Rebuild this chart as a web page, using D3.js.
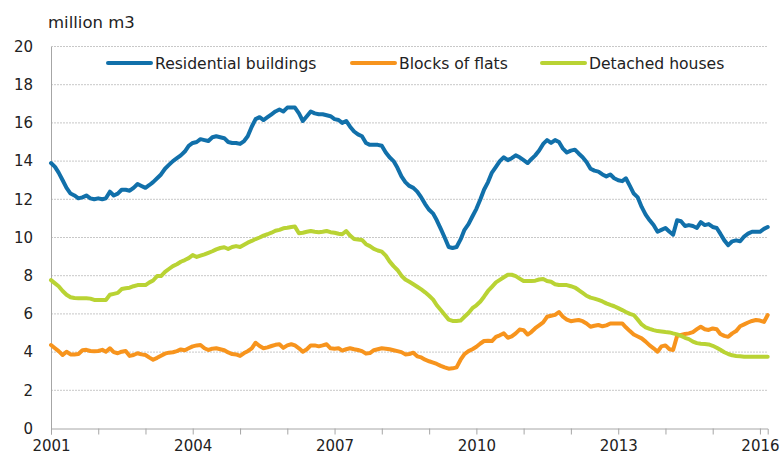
<!DOCTYPE html>
<html><head><meta charset="utf-8">
<script src="https://cdn.jsdelivr.net/npm/d3@7"></script>
<style>
html,body{margin:0;padding:0;background:#fff;}
svg{display:block;font-family:"DejaVu Sans",Verdana,sans-serif;}
</style></head>
<body><svg id="c" width="782" height="459"></svg>
<script>
// Monthly data, Jan 2001 .. Mar 2016 (million m3, moving annual sums)
const months = d3.timeMonth.range(new Date(2001,0,1), new Date(2016,3,1));
const residential = [
13.9,13.7,13.4,13.0,12.6,12.3,12.2,12.05,12.1,12.2,12.05,12.0,
12.05,12.0,12.05,12.4,12.2,12.3,12.5,12.5,12.45,12.6,12.8,12.7,
12.6,12.75,12.9,13.1,13.3,13.6,13.8,14.0,14.15,14.3,14.5,14.8,
14.95,15.0,15.15,15.1,15.05,15.25,15.3,15.25,15.2,15.0,14.95,14.95,
14.9,15.05,15.3,15.8,16.2,16.3,16.15,16.3,16.45,16.6,16.7,16.6,
16.8,16.8,16.8,16.5,16.1,16.35,16.6,16.5,16.45,16.45,16.4,16.35,
16.2,16.15,16.0,16.1,15.8,15.55,15.4,15.3,14.95,14.85,14.85,14.85,
14.8,14.45,14.2,14.0,13.65,13.2,12.9,12.7,12.6,12.4,12.1,11.75,
11.45,11.25,10.9,10.45,10.0,9.5,9.45,9.5,9.9,10.4,10.7,11.1,
11.5,12.0,12.5,12.9,13.4,13.7,14.0,14.2,14.05,14.15,14.3,14.2,
14.05,13.9,14.1,14.3,14.55,14.9,15.1,14.95,15.1,15.0,14.65,14.45,
14.55,14.6,14.4,14.2,13.95,13.6,13.5,13.45,13.3,13.2,13.3,13.1,
13.0,12.95,13.1,12.7,12.3,12.1,11.6,11.2,10.9,10.65,10.3,10.4,
10.5,10.3,10.15,10.9,10.85,10.6,10.65,10.6,10.5,10.8,10.65,10.7,
10.55,10.5,10.2,9.85,9.6,9.8,9.85,9.8,10.05,10.2,10.3,10.3,
10.3,10.45,10.55];
const flats = [
4.37,4.2,4.05,3.85,4.02,3.88,3.88,3.9,4.1,4.12,4.06,4.05,
4.06,4.12,4.02,4.2,4.0,3.94,4.02,4.06,3.8,3.85,3.94,3.88,
3.85,3.71,3.6,3.7,3.81,3.92,3.97,3.99,4.05,4.14,4.1,4.2,
4.3,4.35,4.37,4.2,4.11,4.18,4.2,4.15,4.1,3.98,3.9,3.88,
3.8,3.95,4.05,4.2,4.49,4.32,4.2,4.25,4.32,4.38,4.41,4.22,
4.35,4.41,4.35,4.2,4.02,4.15,4.35,4.35,4.3,4.35,4.41,4.2,
4.18,4.2,4.08,4.15,4.2,4.15,4.11,4.05,3.92,3.95,4.1,4.15,
4.2,4.18,4.15,4.1,4.05,4.0,3.88,3.9,3.97,3.78,3.72,3.6,
3.52,3.45,3.38,3.28,3.2,3.13,3.15,3.2,3.6,3.9,4.05,4.15,
4.28,4.45,4.58,4.6,4.58,4.8,4.88,4.98,4.75,4.82,4.98,5.18,
5.15,4.92,5.05,5.25,5.4,5.55,5.85,5.9,5.95,6.1,5.85,5.7,
5.62,5.65,5.68,5.62,5.5,5.33,5.38,5.42,5.35,5.4,5.5,5.5,
5.5,5.5,5.3,5.1,4.92,4.82,4.72,4.55,4.35,4.2,4.02,4.3,
4.35,4.15,4.11,4.85,4.9,4.95,4.98,5.05,5.2,5.33,5.2,5.16,
5.24,5.2,4.95,4.85,4.8,4.98,5.1,5.35,5.45,5.55,5.63,5.68,
5.65,5.58,5.94];
const detached = [
7.77,7.6,7.45,7.2,7.0,6.87,6.83,6.82,6.82,6.82,6.8,6.73,
6.73,6.73,6.73,7.0,7.05,7.1,7.3,7.34,7.37,7.45,7.51,7.51,
7.51,7.65,7.75,7.98,7.98,8.2,8.35,8.5,8.6,8.73,8.82,8.92,
9.08,8.98,9.05,9.12,9.2,9.28,9.38,9.45,9.49,9.4,9.5,9.55,
9.5,9.62,9.73,9.82,9.92,10.0,10.1,10.17,10.25,10.35,10.4,10.48,
10.51,10.55,10.57,10.22,10.25,10.3,10.34,10.3,10.27,10.3,10.34,10.28,
10.25,10.2,10.17,10.34,10.1,9.92,9.9,9.87,9.65,9.55,9.4,9.32,
9.26,9.05,8.75,8.5,8.3,8.0,7.8,7.68,7.55,7.42,7.28,7.13,
6.95,6.75,6.45,6.2,5.95,5.7,5.63,5.63,5.65,5.85,6.05,6.3,
6.45,6.65,6.9,7.2,7.42,7.65,7.78,7.92,8.05,8.05,7.98,7.85,
7.72,7.72,7.72,7.74,7.8,7.83,7.72,7.68,7.55,7.51,7.51,7.51,
7.45,7.38,7.25,7.1,6.95,6.85,6.8,6.73,6.65,6.55,6.47,6.4,
6.3,6.2,6.1,6.0,5.94,5.7,5.45,5.3,5.22,5.15,5.1,5.08,
5.05,5.03,4.98,4.93,4.85,4.75,4.68,4.55,4.47,4.44,4.42,4.4,
4.33,4.23,4.12,3.99,3.9,3.83,3.8,3.78,3.76,3.76,3.76,3.76,
3.76,3.76,3.76];
const seriesNames = ["Residential buildings","Blocks of flats","Detached houses"];
const seriesColors = ["#1170aa","#f7941d","#b9d334"];
const yTicks = [0,2,4,6,8,10,12,14,16,18,20];
const xLabelYears = [2001,2004,2007,2010,2013,2016];
const unitLabel = "million m3";

const svg = d3.select("#c");
const L=51, R=767.7, T=46.5, B=428.5;
const x = d3.scaleTime().domain([months[0], months[months.length-1]]).range([L,R]);
const y = d3.scaleLinear().domain([0,20]).range([B,T]);

// gridlines
svg.append("g").selectAll("line").data(yTicks.filter(d=>d>0)).join("line")
  .attr("x1",L).attr("x2",R).attr("y1",d=>y(d)).attr("y2",d=>y(d))
  .attr("stroke","#c8c8c8").attr("stroke-width",1).attr("stroke-dasharray","2,1");

// y axis
const ya = svg.append("g").attr("transform",`translate(${L},0)`)
  .call(d3.axisLeft(y).tickValues(yTicks).tickSize(0).tickPadding(18));
ya.select(".domain").attr("stroke","#a6a6a6");
ya.selectAll("text").attr("font-size",15).attr("fill","#222").attr("font-family","DejaVu Sans, sans-serif");

// x axis
const xa = svg.append("g").attr("transform",`translate(0,${B})`)
  .call(d3.axisBottom(x).ticks(d3.timeYear.every(1)).tickSize(6).tickPadding(6)
    .tickFormat(d=> xLabelYears.includes(d.getFullYear()) ? d.getFullYear() : ""));
xa.select(".domain").attr("stroke","#a6a6a6");
xa.selectAll(".tick line").attr("stroke","#a6a6a6");
xa.selectAll("text").attr("font-size",15).attr("fill","#222").attr("font-family","DejaVu Sans, sans-serif");

// lines
const datasets = [residential, flats, detached];
const line = d3.line().x((d,i)=>x(months[i])).y(d=>y(d));
[1,2,0].forEach(k=>{
  svg.append("path").datum(datasets[k]).attr("d",line)
    .attr("fill","none").attr("stroke",seriesColors[k]).attr("stroke-width",4)
    .attr("stroke-linejoin","round").attr("stroke-linecap","round");
});

// unit label
svg.append("text").attr("x",48).attr("y",28).attr("font-size",16.5).attr("fill","#222").text(unitLabel);

// legend
const legX = [108,352,542];
seriesNames.forEach((n,k)=>{
  svg.append("line").attr("x1",legX[k]).attr("x2",legX[k]+43).attr("y1",63).attr("y2",63)
    .attr("stroke",seriesColors[k]).attr("stroke-width",4).attr("stroke-linecap","round");
  svg.append("text").attr("x",legX[k]+47).attr("y",68.5).attr("font-size",15.6).attr("fill","#222").text(n);
});
</script></body></html>
